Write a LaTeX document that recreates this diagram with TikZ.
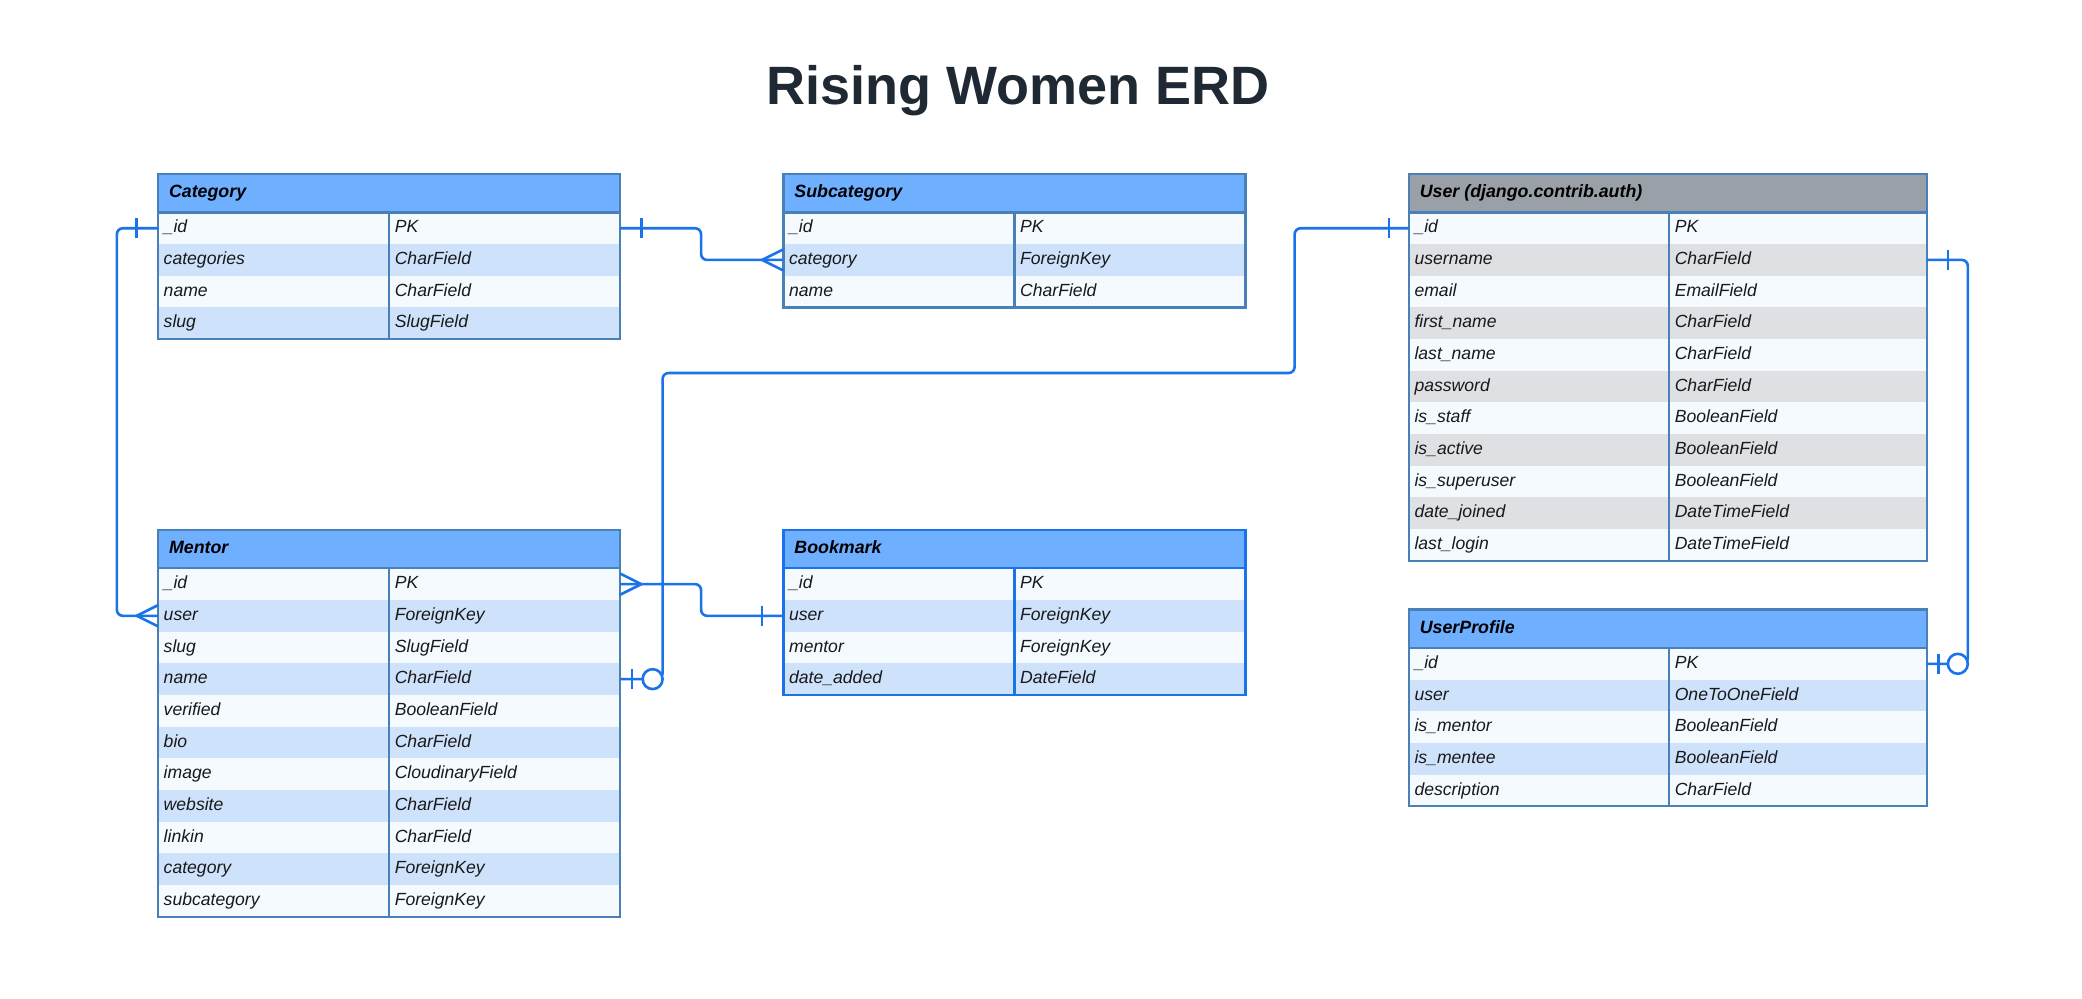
\documentclass[tikz,border=0pt]{standalone}
\usepackage{fontspec}
\setmainfont{Liberation Sans}
\usetikzlibrary{calc}

\definecolor{headblue}{RGB}{110,175,255}
\definecolor{headgrey}{RGB}{154,160,168}
\definecolor{rowlight}{RGB}{245,250,255}
\definecolor{stripeblue}{RGB}{207,226,252}
\definecolor{stripegrey}{RGB}{222,224,228}
\definecolor{tabline}{RGB}{74,128,184}
\definecolor{linkblue}{RGB}{26,115,232}
\definecolor{titlecol}{RGB}{31,41,51}

% one reduced pixel
\def\rpx{0.66389pt}

\tikzset{
  erdhead/.style={anchor=north west, minimum height={29*\rpx}, inner sep=0pt, outer sep=0pt},
  erdrow/.style={anchor=north west, minimum height={23.85*\rpx}, inner sep=0pt, outer sep=0pt},
  headtext/.style={anchor=west, inner sep=0pt, text height=6.6pt, text depth=2pt, text=black,
    font=\fontsize{8.9}{10}\selectfont\bfseries\itshape},
  fldtext/.style={anchor=west, inner sep=0pt, text height=6.6pt, text depth=2pt, text=black!90,
    font=\fontsize{8.8}{10}\selectfont\itshape},
  conn/.style={draw=linkblue, line width=1.3pt, rounded corners=3pt},
  connmark/.style={draw=linkblue, line width=1.3pt},
  pics/onebar/.style={code={\draw[connmark] (0,-7.5) -- (0,7.5);}},
  pics/crowfoot/.style={code={\draw[connmark] (16,-8) -- (0,0) -- (16,8);}},
  pics/zeroring/.style={code={\draw[connmark, fill=white] (0,0) circle[radius=7.5];}},
}

% #1 name, #2 top left, #3 width, #4 first column, #5 head, #6 stripe, #7 border, #8 title, #9 fields
\newcommand{\erdtable}[9]{%
  \node[erdhead, fill=#5, minimum width={#3*\rpx}] (#1) at (#2) {};
  \node[headtext] (#1-title) at ($(#1.west)+(8,0)$) {#8};
  \foreach \fld/\typ [count=\i] in {#9} {
    \ifodd\i \def\rowcol{rowlight}\else \def\rowcol{#6}\fi
    \node[erdrow, fill=\rowcol, minimum width={#3*\rpx}] (#1-\i) at ($(#2)+(0,{29+(\i-1)*23.85})$) {};
    \node[fldtext] (#1-\i-f) at ($(#1-\i.west)+(4,0)$) {\fld};
    \node[fldtext] (#1-\i-t) at ($(#1-\i.west)+(#4+4,0)$) {\typ};
    \xdef\lastrow{\i}
  }
  \draw[#7, line width=1.1pt] (#1.south west) -- (#1.south east);
  \draw[#7, line width=1.1pt] ($(#1.south west)+(#4,0)$) -- ($(#1-\lastrow.south west)+(#4,0)$);
  \draw[#7, line width=1.1pt] (#1.north west) rectangle (#1-\lastrow.south east);
}

\begin{document}
\begin{tikzpicture}[x=0.66389pt, y=-0.66389pt]
  \fill[white] (0,0) rectangle (1568,752);
  \useasboundingbox (0,0) rectangle (1568,752);

  \node[text=titlecol, font=\fontsize{27}{30}\selectfont\bfseries] (title) at (767,68) {Rising Women ERD};

  % tables
  \erdtable{cat}{119,131}{348}{174}{headblue}{stripeblue}{tabline}{Category}
    {\_id/PK, categories/CharField, name/CharField, slug/SlugField}
  \erdtable{sub}{590,131}{348}{174}{headblue}{stripeblue}{tabline}{Subcategory}
    {\_id/PK, category/ForeignKey, name/CharField}
  \erdtable{usr}{1061,131}{390}{196}{headgrey}{stripegrey}{tabline}{User (django.contrib.auth)}
    {\_id/PK, username/CharField, email/EmailField, first\_name/CharField, last\_name/CharField,
     password/CharField, is\_staff/BooleanField, is\_active/BooleanField, is\_superuser/BooleanField,
     date\_joined/DateTimeField, last\_login/DateTimeField}
  \erdtable{men}{119,399}{348}{174}{headblue}{stripeblue}{tabline}{Mentor}
    {\_id/PK, user/ForeignKey, slug/SlugField, name/CharField, verified/BooleanField, bio/CharField,
     image/CloudinaryField, website/CharField, linkin/CharField, category/ForeignKey, subcategory/ForeignKey}
  \erdtable{bm}{590,399}{348}{174}{headblue}{stripeblue}{linkblue}{Bookmark}
    {\_id/PK, user/ForeignKey, mentor/ForeignKey, date\_added/DateField}
  \erdtable{up}{1061,459}{390}{196}{headblue}{stripeblue}{tabline}{UserProfile}
    {\_id/PK, user/OneToOneField, is\_mentor/BooleanField, is\_mentee/BooleanField, description/CharField}

  % relations
  \draw[conn] (cat-1.east) -- ++(61,0) |- (sub-2.west);
  \pic at ($(cat-1.east)+(16,0)$) {onebar};
  \pic at ($(sub-2.west)+(-16,0)$) {crowfoot};

  \draw[conn] (cat-1.west) -- ++(-31,0) |- (men-2.west);
  \pic at ($(cat-1.west)+(-16,0)$) {onebar};
  \pic at ($(men-2.west)+(-16,0)$) {crowfoot};

  \draw[conn] (usr-1.west) -- ++(-86,0) -- ++(0,109) -| ($(men-4.east)+(32,0)$) -- (men-4.east);
  \pic at ($(usr-1.west)+(-15,0)$) {onebar};
  \pic at ($(men-4.east)+(9,0)$) {onebar};
  \pic at ($(men-4.east)+(24.5,0)$) {zeroring};

  \draw[conn] (men-1.east) -- ++(61,0) |- (bm-2.west);
  \pic[xscale=-1] at ($(men-1.east)+(16,0)$) {crowfoot};
  \pic at ($(bm-2.west)+(-16,0)$) {onebar};

  \draw[conn] (usr-2.east) -- ++(31,0) |- (up-1.east);
  \pic at ($(usr-2.east)+(16,0)$) {onebar};
  \pic at ($(up-1.east)+(9,0)$) {onebar};
  \pic at ($(up-1.east)+(23.5,0)$) {zeroring};
\end{tikzpicture}
\end{document}
